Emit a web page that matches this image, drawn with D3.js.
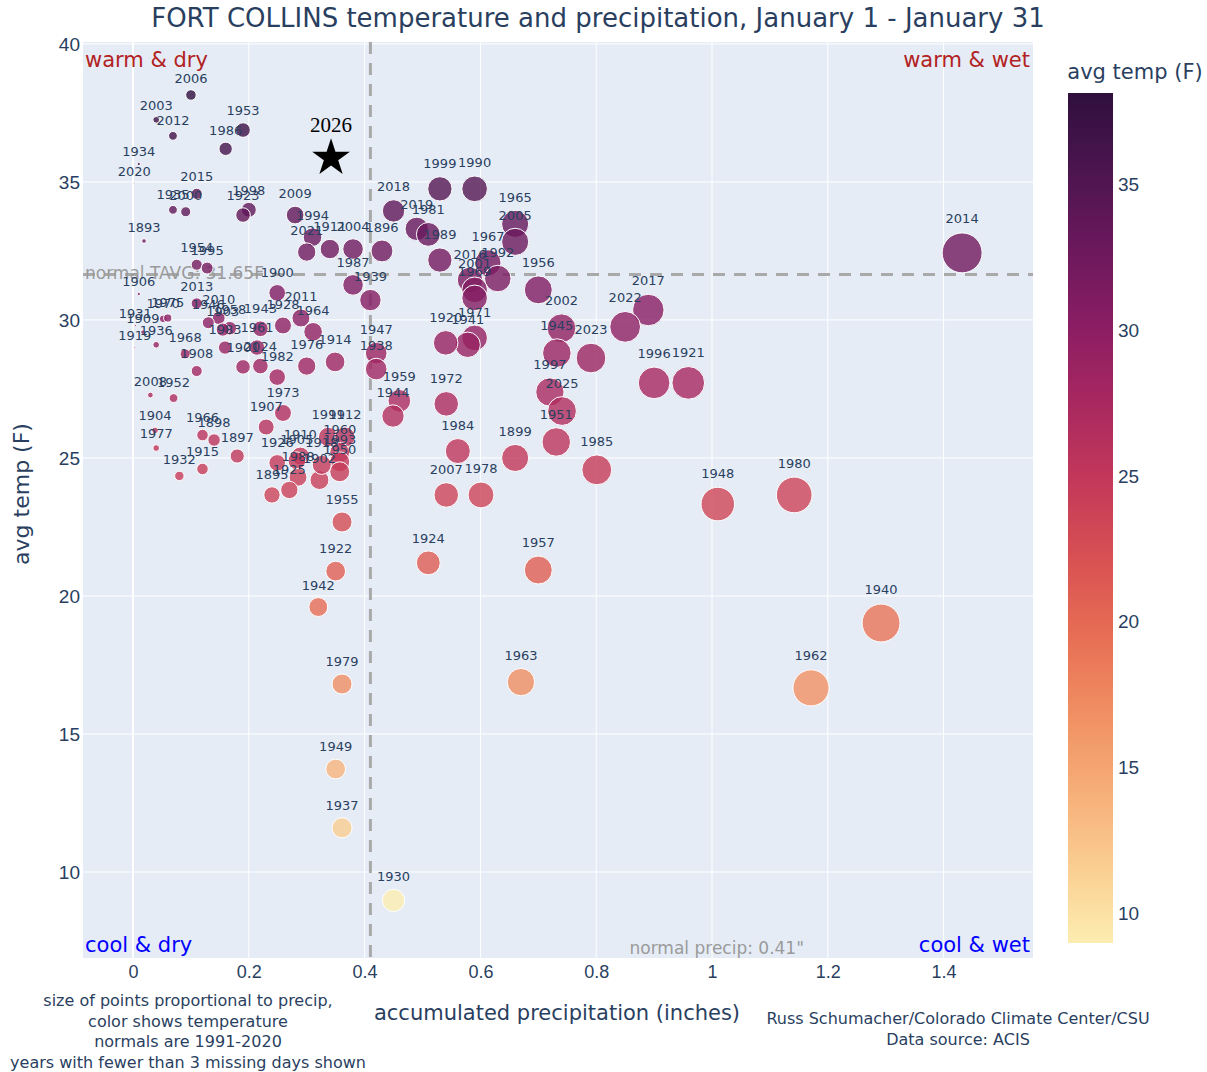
<!DOCTYPE html>
<html><head><meta charset="utf-8">
<script src="https://cdn.jsdelivr.net/npm/d3@7"></script>
<style>body{margin:0;background:#fff}</style>
</head><body><svg id="c" width="1207" height="1072" font-family="DejaVu Sans, Verdana, sans-serif"></svg>
<script>
const years = [2006,2003,2012,1953,1986,1934,2020,2015,1935,2000,1998,1923,2009,1994,2021,1911,2004,1896,1987,1939,1893,1954,1995,2018,2019,1981,1989,1999,1990,1965,2005,1967,1992,2016,2001,1969,1971,1941,1920,1956,2017,2022,2002,1945,2023,1997,2025,1951,1996,1921,1985,1899,1984,2007,1978,1972,1959,1944,1947,1938,1924,1957,1963,1930,1948,1980,1940,1962,2014,1955,1922,1942,1979,1949,1937,1973,1907,1897,1966,1898,1915,1932,1904,1977,2008,1952,1910,1905,1926,1988,1925,1895,1902,1991,1912,1960,1993,1950,1918,1906,2013,1970,1975,1931,1909,1936,1919,1968,1908,1900,2011,1928,1964,1943,2010,1946,1958,1903,1983,1961,1901,2024,1982,1976,1914];
const precip = [0.100,0.040,0.069,0.190,0.160,0.010,0.002,0.110,0.069,0.091,0.200,0.190,0.280,0.310,0.300,0.340,0.380,0.430,0.380,0.410,0.019,0.110,0.128,0.450,0.490,0.510,0.530,0.530,0.590,0.660,0.660,0.613,0.630,0.582,0.590,0.590,0.590,0.578,0.540,0.700,0.890,0.850,0.740,0.732,0.791,0.720,0.741,0.731,0.900,0.959,0.801,0.660,0.561,0.541,0.601,0.541,0.460,0.449,0.420,0.420,0.510,0.700,0.670,0.450,1.010,1.142,1.292,1.171,1.432,0.361,0.350,0.320,0.361,0.350,0.361,0.259,0.230,0.180,0.120,0.140,0.120,0.080,0.038,0.040,0.030,0.070,0.289,0.283,0.249,0.285,0.270,0.240,0.322,0.337,0.366,0.357,0.357,0.357,0.326,0.010,0.110,0.052,0.060,0.004,0.017,0.040,0.003,0.090,0.110,0.249,0.290,0.259,0.311,0.220,0.148,0.130,0.167,0.155,0.159,0.214,0.190,0.220,0.249,0.300,0.349];
const temps = [38.15,37.25,36.67,36.88,36.20,35.65,34.96,34.57,33.99,33.92,33.99,33.80,33.80,33.00,32.46,32.57,32.57,32.50,31.27,30.72,32.86,32.00,31.88,33.95,33.30,33.10,32.17,34.75,34.75,33.48,32.83,32.07,31.50,31.45,31.09,30.80,29.35,29.10,29.17,31.09,30.36,29.75,29.70,28.80,28.62,27.39,26.70,25.58,27.72,27.72,24.57,25.00,25.25,23.66,23.66,26.96,27.07,26.52,28.80,28.22,21.20,20.94,16.88,8.97,23.33,23.66,19.02,16.67,32.43,22.68,20.90,19.60,16.81,13.73,11.60,26.63,26.12,25.07,25.83,25.65,24.60,24.35,26.00,25.36,27.28,27.17,25.07,24.90,24.82,24.30,23.84,23.66,24.20,25.76,25.76,25.20,24.86,24.50,24.75,30.94,30.60,30.04,30.07,29.80,29.56,29.10,29.00,28.77,28.15,30.98,30.07,29.80,29.57,29.68,30.07,29.90,29.70,29.65,29.00,29.00,28.30,28.33,27.93,28.33,28.48];
const current = {year:"2026", precip:0.342, temp:35.87};
const normalPrecip = 0.41, normalTemp = 31.65;
const xTicks = [0,0.2,0.4,0.6,0.8,1,1.2,1.4];
const yTicks = [10,15,20,25,30,35,40];
const cbTicks = [10,15,20,25,30,35];
const matter = ['rgb(253, 237, 176)','rgb(250, 205, 145)','rgb(246, 173, 119)','rgb(240, 142, 98)','rgb(231, 109, 84)','rgb(216, 80, 83)','rgb(195, 56, 90)','rgb(168, 40, 96)','rgb(138, 29, 99)','rgb(107, 24, 93)','rgb(76, 21, 80)','rgb(47, 15, 61)'];

const svg = d3.select("#c");
const L=83,R=1033,T=42,B=958;
const x = d3.scaleLinear().domain([-0.0864,1.5544]).range([L,R]);
const y = d3.scaleLinear().domain([6.884,40.07]).range([B,T]);
const cmin = d3.min(temps), cmax = d3.max(temps);
const color = d3.scaleLinear().domain(matter.map((c,i)=>cmin+(cmax-cmin)*i/(matter.length-1))).range(matter);
const rad = p => 33.4*Math.sqrt(Math.max(p,0))/2;
const ink = "#2a3f5f";

svg.append("rect").attr("x",L).attr("y",T).attr("width",R-L).attr("height",B-T).attr("fill","#e5ecf6");
const g = svg.append("g");
g.selectAll(".gx").data(xTicks).join("line").attr("x1",d=>x(d)).attr("x2",d=>x(d)).attr("y1",T).attr("y2",B).attr("stroke","#fff").attr("stroke-width",d=>d===0?2:1);
g.selectAll(".gy").data(yTicks).join("line").attr("x1",L).attr("x2",R).attr("y1",d=>y(d)).attr("y2",d=>y(d)).attr("stroke","#fff").attr("stroke-width",1);

const xAxis = d3.axisBottom(x).tickValues(xTicks).tickFormat(d=>d===0||d===1?String(d):d3.format(".1f")(d)).tickSize(0).tickPadding(7);
const xa = svg.append("g").attr("transform",`translate(0,${B})`).call(xAxis);
xa.select(".domain").remove();
xa.selectAll("text").attr("fill",ink).attr("font-size",18).attr("font-family",null);
const yAxis = d3.axisLeft(y).tickValues(yTicks).tickSize(0).tickPadding(3);
const ya = svg.append("g").attr("transform",`translate(${L},0)`).call(yAxis);
ya.select(".domain").remove();
ya.selectAll("text").attr("fill",ink).attr("font-size",19).attr("font-family",null);

// normal lines
svg.append("line").attr("x1",x(normalPrecip)).attr("x2",x(normalPrecip)).attr("y1",T).attr("y2",B).attr("stroke","#a9a9a9").attr("stroke-width",3).attr("stroke-dasharray","12,9");
svg.append("line").attr("x1",L).attr("x2",R).attr("y1",y(normalTemp)).attr("y2",y(normalTemp)).attr("stroke","#a9a9a9").attr("stroke-width",3).attr("stroke-dasharray","12,9");

const ann = (tx,ty,txt,col,anchor,size)=>svg.append("text").attr("x",tx).attr("y",ty).attr("fill",col).attr("font-size",size).attr("text-anchor",anchor).text(txt);
ann(L+2,y(normalTemp)+5,"normal TAVG: 31.65F","#9a9a9a","start",17);

const data = years.map((yr,i)=>({yr, p:precip[i], t:temps[i]}));
svg.append("clipPath").attr("id","pc").append("rect").attr("x",L).attr("y",T).attr("width",R-L).attr("height",B-T);
const pg = svg.append("g").attr("clip-path","url(#pc)");
pg.selectAll("circle").data(data).join("circle")
  .attr("cx",d=>x(d.p)).attr("cy",d=>y(d.t)).attr("r",d=>rad(d.p))
  .attr("fill",d=>color(d.t)).attr("fill-opacity",0.8).attr("stroke","#fff").attr("stroke-width",1);
pg.selectAll("text").data(data).join("text")
  .attr("x",d=>x(d.p)).attr("y",d=>y(d.t)-rad(d.p)*1.2-6)
  .attr("text-anchor","middle").attr("font-size",13).attr("fill",ink).text(d=>d.yr);

// current year star
svg.append("path").attr("d",d3.symbol(d3.symbolStar,440)()).attr("transform",`translate(${x(current.precip)},${y(current.temp)})`).attr("fill","#000");
svg.append("text").attr("x",x(current.precip)).attr("y",y(current.temp)-26).attr("text-anchor","middle").attr("font-family","Liberation Serif, Times New Roman, serif").attr("font-size",21).attr("fill","#000").text(current.year);

// quadrant annotations
ann(L+2,67,"warm & dry","#b22222","start",21);
ann(R-3,67,"warm & wet","#b22222","end",21);
ann(L+2,952,"cool & dry","#0000ff","start",21);
ann(R-3,952,"cool & wet","#0000ff","end",21);
ann(804,954,"normal precip: 0.41\"","#9a9a9a","end",17);

// title, axis titles
ann(598,27,"FORT COLLINS temperature and precipitation, January 1 - January 31",ink,"middle",26);
ann(557,1020,"accumulated precipitation (inches)",ink,"middle",21);
svg.append("text").attr("transform","translate(29,494) rotate(-90)").attr("text-anchor","middle").attr("font-size",22).attr("fill",ink).text("avg temp (F)");
["size of points proportional to precip,","color shows temperature","normals are 1991-2020","years with fewer than 3 missing days shown"].forEach((s,i)=>ann(188,1006+i*20.5,s,ink,"middle",16));
ann(958,1024,"Russ Schumacher/Colorado Climate Center/CSU",ink,"middle",16);
ann(958,1045,"Data source: ACIS",ink,"middle",16);

// colorbar
const cbT=93, cbB=943, cbX=1068, cbW=45;
const cy = d3.scaleLinear().domain([cmin,cmax]).range([cbB,cbT]);
const grad = svg.append("defs").append("linearGradient").attr("id","cg").attr("x1",0).attr("y1",1).attr("x2",0).attr("y2",0);
matter.forEach((c,i)=>grad.append("stop").attr("offset",i/(matter.length-1)).attr("stop-color",c));
svg.append("rect").attr("x",cbX).attr("y",cbT).attr("width",cbW).attr("height",cbB-cbT).attr("fill","url(#cg)");
const cba = svg.append("g").attr("transform",`translate(${cbX+cbW},0)`).call(d3.axisRight(cy).tickValues(cbTicks).tickSize(0).tickPadding(5));
cba.select(".domain").remove();
cba.selectAll("text").attr("fill",ink).attr("font-size",19).attr("font-family",null);
ann(1135,79,"avg temp (F)",ink,"middle",21);
</script></body></html>
